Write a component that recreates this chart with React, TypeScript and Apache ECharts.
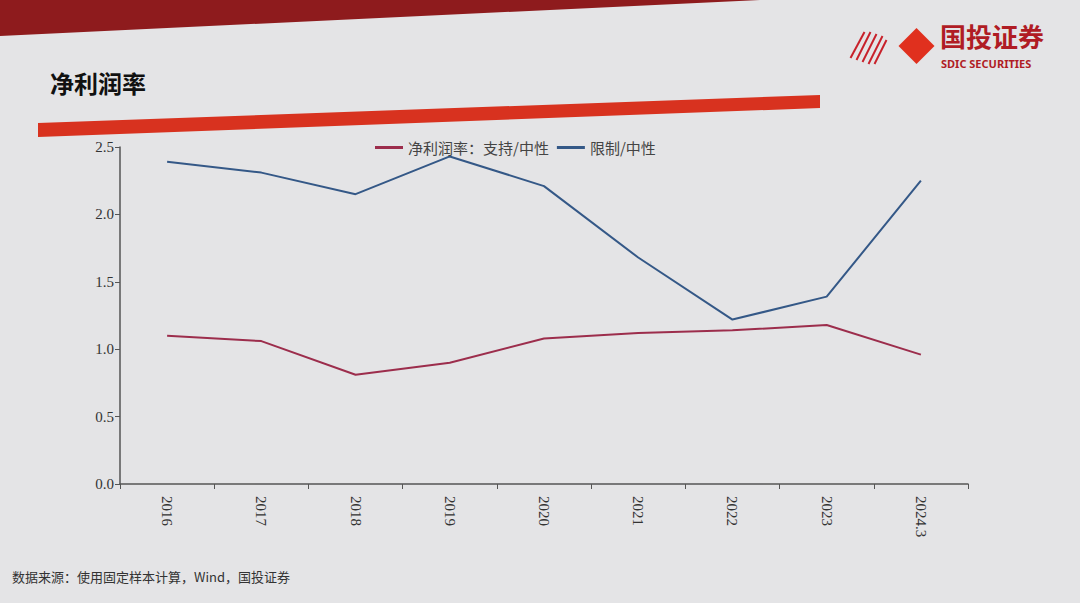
import React, { useEffect, useRef } from "react";
import * as echarts from "echarts";

const categories = ["2016", "2017", "2018", "2019", "2020", "2021", "2022", "2023", "2024.3"];
const supportNeutral = [1.1, 1.06, 0.81, 0.9, 1.08, 1.12, 1.14, 1.18, 0.96];
const restrictNeutral = [2.39, 2.31, 2.15, 2.43, 2.21, 1.68, 1.22, 1.39, 2.25];
const seriesNames = ["净利润率：支持/中性", "限制/中性"];
const titleText = "净利润率";
const sourceText = "数据来源：使用固定样本计算，Wind，国投证券";

export default function App() {
  const ref = useRef<HTMLDivElement>(null);
  useEffect(() => {
    if (!ref.current) return;
    const chart = echarts.init(ref.current, null, { renderer: "svg" });
    const serif = "'Liberation Serif', 'DejaVu Serif', 'Noto Sans CJK SC', serif";
    chart.setOption({
      animation: false,
      backgroundColor: "#e4e4e6",
      grid: { left: 120, right: 112, top: 147, bottom: 119 },
      legend: {
        left: 370,
        top: 135,
        icon: "rect",
        itemWidth: 28,
        itemHeight: 3,
        itemGap: 8,
        textStyle: { color: "#444", fontSize: 15, fontFamily: "'Noto Sans CJK SC', sans-serif" },
        data: seriesNames,
      },
      xAxis: {
        type: "category",
        data: categories,
        boundaryGap: true,
        axisLine: { lineStyle: { color: "#555", width: 1.5 } },
        axisTick: { show: true, length: 5, lineStyle: { color: "#555" } },
        axisLabel: { rotate: -90, color: "#333", fontSize: 15, fontFamily: serif, margin: 12 },
      },
      yAxis: {
        type: "value",
        min: 0,
        max: 2.5,
        interval: 0.5,
        splitLine: { show: false },
        axisLine: { show: true, lineStyle: { color: "#555", width: 1.5 } },
        axisTick: { show: true, length: 5, lineStyle: { color: "#555" } },
        axisLabel: {
          color: "#333",
          fontSize: 15,
          fontFamily: serif,
          margin: 6,
          formatter: (v: number) => v.toFixed(1),
        },
      },
      series: [
        {
          name: seriesNames[0],
          type: "line",
          data: supportNeutral,
          symbol: "none",
          lineStyle: { color: "#9c2d4c", width: 2 },
          itemStyle: { color: "#9c2d4c" },
        },
        {
          name: seriesNames[1],
          type: "line",
          data: restrictNeutral,
          symbol: "none",
          lineStyle: { color: "#345887", width: 2 },
          itemStyle: { color: "#345887" },
        },
      ],
      graphic: [
        {
          type: "polygon",
          shape: { points: [[0, 0], [760, 0], [0, 36]] },
          style: { fill: "#8e1b1d" },
          silent: true,
        },
        {
          type: "polygon",
          shape: { points: [[38, 123], [820, 95], [820, 108], [38, 137]] },
          style: { fill: "#d8321f" },
          silent: true,
        },
        {
          type: "text",
          left: 50,
          top: 70,
          style: { text: titleText, fill: "#111", font: "bold 24px 'Noto Sans CJK SC', sans-serif" },
        },
        {
          type: "group",
          left: 848,
          top: 28,
          children: [
            { type: "line", shape: { x1: 0, y1: 30, x2: 14, y2: 4 }, style: { stroke: "#c8202a", lineWidth: 2 } },
            { type: "line", shape: { x1: 6, y1: 32, x2: 20, y2: 4 }, style: { stroke: "#c8202a", lineWidth: 2 } },
            { type: "line", shape: { x1: 12, y1: 34, x2: 26, y2: 6 }, style: { stroke: "#c8202a", lineWidth: 2 } },
            { type: "line", shape: { x1: 18, y1: 36, x2: 32, y2: 8 }, style: { stroke: "#c8202a", lineWidth: 2 } },
            { type: "line", shape: { x1: 24, y1: 36, x2: 36, y2: 12 }, style: { stroke: "#c8202a", lineWidth: 2 } },
            {
              type: "polygon",
              shape: { points: [[66, 0], [84, 18], [66, 36], [48, 18]] },
              style: { fill: "#e0301e" },
            },
          ],
        },
        {
          type: "text",
          left: 940,
          top: 22,
          style: { text: "国投证券", fill: "#b01c24", font: "bold 26px 'Noto Sans CJK SC', sans-serif" },
        },
        {
          type: "text",
          left: 941,
          top: 58,
          style: { text: "SDIC SECURITIES", fill: "#b01c24", font: "bold 11px 'Noto Sans', sans-serif" },
        },
        {
          type: "text",
          left: 12,
          top: 570,
          style: { text: sourceText, fill: "#333", font: "13px 'Noto Sans CJK SC', sans-serif" },
        },
      ],
    });
    return () => chart.dispose();
  }, []);
  return <div ref={ref} style={{ position: "fixed", left: 0, top: 0, width: 1080, height: 603 }} />;
}
